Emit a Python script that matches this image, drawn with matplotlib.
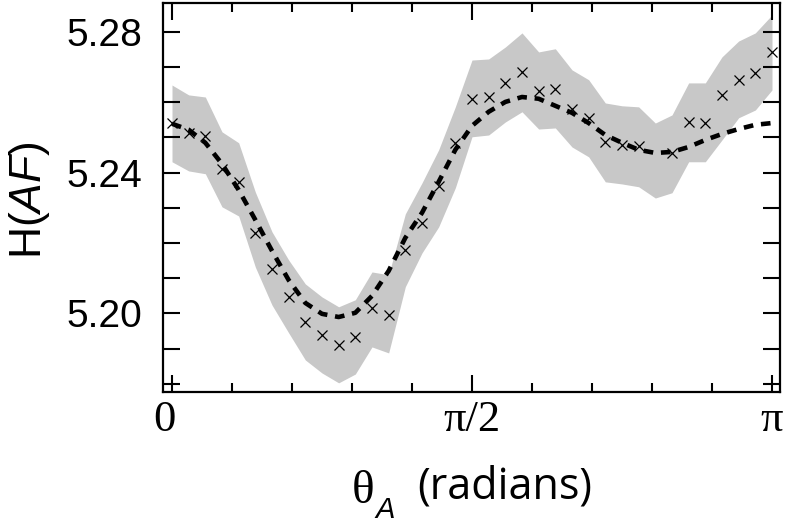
import numpy as np
import matplotlib
matplotlib.use('Agg')
import matplotlib.pyplot as plt
import matplotlib.transforms as mtransforms
from matplotlib.ticker import FixedLocator, MultipleLocator

# angle steps of 5 degrees from 0 to 180
theta_deg = list(range(0, 181, 5))

# measured H(AF) values (x markers); one point missing at 145 deg
h_meas = [5.2542, 5.2514, 5.2503, 5.2410, 5.2373, 5.2228, 5.2127, 5.2048, 5.1977,
          5.1938, 5.1910, 5.1934, 5.2015, 5.1995, 5.2179, 5.2257, 5.2363, 5.2484,
          5.2609, 5.2614, 5.2654, 5.2686, 5.2632, 5.2639, 5.2580, 5.2556, 5.2488,
          5.2479, 5.2476, np.nan, 5.2455, 5.2544, 5.2542, 5.2620, 5.2663, 5.2684,
          5.2742]

# smooth fit (dashed)
h_fit = [5.2539, 5.2522, 5.2485, 5.2425, 5.2351, 5.2266, 5.2178, 5.2095, 5.2030,
         5.1999, 5.1990, 5.2002, 5.2050, 5.2121, 5.2215, 5.2286, 5.2374, 5.2465,
         5.2533, 5.2573, 5.2601, 5.2615, 5.2610, 5.2590, 5.2570, 5.2541, 5.2507,
         5.2485, 5.2465, 5.2456, 5.2459, 5.2473, 5.2493, 5.2510, 5.2524, 5.2536,
         5.2541]

# grey band
h_upper = [5.2649, 5.2621, 5.2615, 5.2516, 5.2485, 5.2345, 5.2232, 5.2152, 5.2084,
           5.2047, 5.2019, 5.2039, 5.2118, 5.2110, 5.2283, 5.2371, 5.2465, 5.2587,
           5.2720, 5.2723, 5.2757, 5.2797, 5.2743, 5.2752, 5.2692, 5.2664, 5.2598,
           5.2590, 5.2587, 5.2541, 5.2564, 5.2655, 5.2655, 5.2729, 5.2774, 5.2797,
           5.2848]
h_lower = [5.2431, 5.2405, 5.2397, 5.2303, 5.2277, 5.2132, 5.2024, 5.1945, 5.1868,
           5.1831, 5.1803, 5.1828, 5.1905, 5.1888, 5.2076, 5.2172, 5.2246, 5.2357,
           5.2502, 5.2507, 5.2544, 5.2573, 5.2524, 5.2527, 5.2473, 5.2445, 5.2374,
           5.2368, 5.2360, 5.2328, 5.2343, 5.2431, 5.2431, 5.2493, 5.2556, 5.2578,
           5.2635]

x_tick_labels = ['0', r'π/2', 'π']
y_tick_values = [5.20, 5.24, 5.28]

theta = np.deg2rad(theta_deg)

W, H = 785, 523
fig = plt.figure(figsize=(W / 100, H / 100), dpi=100)
ax = fig.add_axes([163 / W, 1 - 392 / H, 617 / W, 389 / H])

ax.fill_between(theta, h_lower, h_upper, color='#c8c8c8', lw=0, zorder=1)
ax.plot(theta, h_fit, color='black', lw=3.3, linestyle=(0, (2.1, 1.7)),
        dash_capstyle='butt', zorder=2)
ax.plot(theta, h_meas, linestyle='none', marker='x', ms=7.5, mew=0.9,
        color='black', zorder=3)

ax.set_xlim(-0.0471, 3.1835)
ax.set_ylim(5.1777, 5.2882)

ax.xaxis.set_major_locator(FixedLocator([0, np.pi / 2, np.pi]))
ax.xaxis.set_minor_locator(FixedLocator([k * np.pi / 10 for k in range(11)]))
ax.set_xticklabels(x_tick_labels, family='Liberation Serif', fontsize=32)

ax.yaxis.set_major_locator(FixedLocator(y_tick_values))
ax.yaxis.set_minor_locator(MultipleLocator(0.01))
ax.set_yticklabels(['%.2f' % v for v in y_tick_values],
                   family='Liberation Sans', fontsize=28)

ax.tick_params(which='both', direction='in', top=True, right=True, width=1.5)
ax.tick_params(axis='x', which='major', length=12, pad=6)
ax.tick_params(axis='x', which='minor', length=6.5)
ax.tick_params(axis='y', which='both', length=12)
ax.tick_params(axis='y', which='major', pad=15)
for s in ax.spines.values():
    s.set_linewidth(1.6)

# the "0" label sits a little left of its tick in the original
lbl0 = ax.get_xticklabels()[0]
lbl0.set_transform(lbl0.get_transform() +
                   mtransforms.ScaledTranslation(-8 / 100, 0, fig.dpi_scale_trans))

plt.rcParams['mathtext.fontset'] = 'custom'
plt.rcParams['mathtext.rm'] = 'Liberation Sans'
plt.rcParams['mathtext.it'] = 'Liberation Sans:italic'
fig.text(29 / W, 1 - 200 / H, r'H($AF$)', rotation=90, ha='center', va='center',
         family='Liberation Sans', fontsize=32)

# x label built from pieces (serif theta, italic subscript, sans text)
fig.text(352 / W, 1 - 503 / H, 'θ', family='Liberation Serif', fontsize=34,
         ha='left', va='baseline')
fig.text(375 / W, 1 - 518 / H, 'A', family='Liberation Sans', style='italic',
         fontsize=21, ha='left', va='baseline')
fig.text(417 / W, 1 - 498 / H, '(radians)', family='Open Sans', fontsize=31,
         ha='left', va='baseline')

fig.savefig('out.png', dpi=100)
